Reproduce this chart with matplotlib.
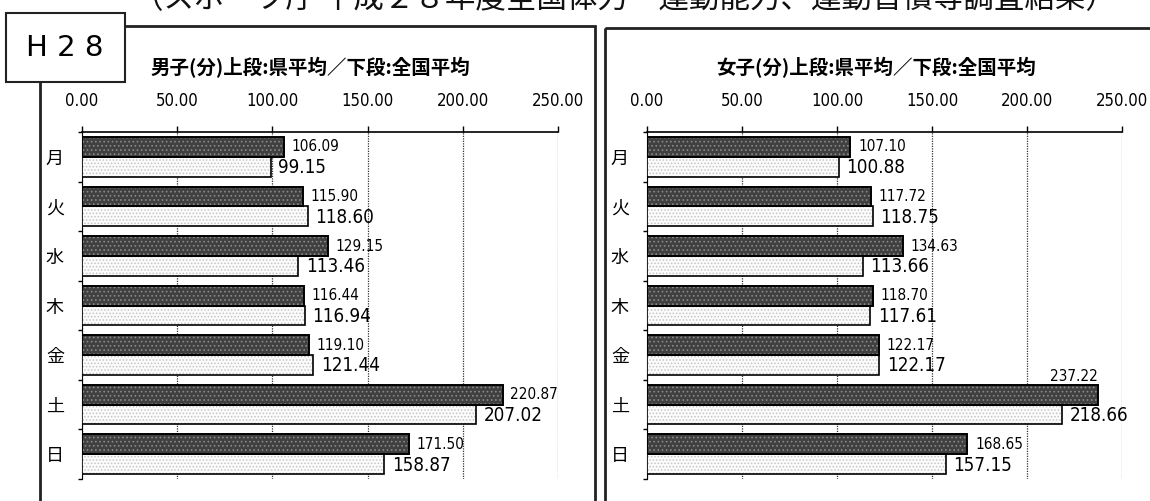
import matplotlib
matplotlib.use('Agg')
import matplotlib.pyplot as plt
from matplotlib.patches import Rectangle
import numpy as np

plt.rcParams['font.family'] = ['Noto Sans CJK JP', 'DejaVu Sans']
plt.rcParams['hatch.linewidth'] = 0.7

# data
days = ['月', '火', '水', '木', '金', '土', '日']
boys_pref = [106.09, 115.90, 129.15, 116.44, 119.10, 220.87, 171.50]
boys_nat = [99.15, 118.60, 113.46, 116.94, 121.44, 207.02, 158.87]
girls_pref = [107.10, 117.72, 134.63, 118.70, 122.17, 237.22, 168.65]
girls_nat = [100.88, 118.75, 113.66, 117.61, 122.17, 218.66, 157.15]
x_ticks = [0, 50, 100, 150, 200, 250]
titles = ['男子(分)上段:県平均／下段:全国平均', '女子(分)上段:県平均／下段:全国平均']
header = '（スポーツ庁 平成２８年度全国体力・運動能力、運動習慣等調査結果）'

W, H = 1150, 501
num_font = dict(family=['DejaVu Sans'], fontstretch='condensed')


def px(x0, y0, x1, y1):
    return [x0 / W, 1 - y1 / H, (x1 - x0) / W, (y1 - y0) / H]


fig = plt.figure(figsize=(W / 100, H / 100), dpi=100)

# overlay for frames and loose text
bg = fig.add_axes([0, 0, 1, 1], zorder=0)
bg.set_xlim(0, W)
bg.set_ylim(H, 0)
bg.axis('off')

bg.add_patch(Rectangle((40, 26), 555, 520, fill=False, lw=2, ec='#222'))
bg.add_patch(Rectangle((605, 28), 560, 520, fill=False, lw=2, ec='#222'))
bg.add_patch(Rectangle((6, 13), 119, 69, fc='white', lw=1.5, ec='#222', zorder=5))
bg.text(65, 48, 'H 2 8', fontsize=21, ha='center', va='center', family=['DejaVu Sans'],
        zorder=6)
# page heading above the charts, cut by the top edge as in the scan
bg.text(133, 8, header, fontsize=22, ha='left', va='baseline', color='#111')


def draw_panel(rect, pref, nat, title, title_x):
    ax = fig.add_axes(px(*rect), zorder=2)
    ax.patch.set_alpha(0)
    y = np.arange(len(days))
    # dark bars (prefecture), speckled
    ax.barh(y - 0.2, pref, height=0.4, color='#404040', lw=0, zorder=3)
    ax.barh(y - 0.2, pref, height=0.4, color='none', edgecolor='#8a8a8a', lw=0,
            hatch='....', zorder=3)
    ax.barh(y - 0.2, pref, height=0.4, color='none', edgecolor='black', lw=1.4, zorder=4)
    # light bars (national), speckled
    ax.barh(y + 0.2, nat, height=0.4, color='#fbfbfb', lw=0, zorder=3)
    ax.barh(y + 0.2, nat, height=0.4, color='none', edgecolor='#c4c4c4', lw=0,
            hatch='.....', zorder=3)
    ax.barh(y + 0.2, nat, height=0.4, color='none', edgecolor='black', lw=1.2, zorder=4)

    for v, yy in zip(pref, y):
        if v > 230:
            ax.text(v, yy - 0.42, f'{v:.2f}', ha='right', va='bottom', fontsize=11, **num_font)
        else:
            ax.text(v + 4, yy - 0.2, f'{v:.2f}', ha='left', va='center', fontsize=11, **num_font)
    for v, yy in zip(nat, y):
        ax.text(v + 4, yy + 0.22, f'{v:.2f}', ha='left', va='center', fontsize=13.5, **num_font)

    ax.set_xlim(0, 250)
    ax.set_ylim(len(days) - 0.5, -0.5)
    ax.xaxis.tick_top()
    ax.set_xticks(x_ticks)
    ax.set_xticklabels([f'{t:.2f}' for t in x_ticks], fontsize=12, **num_font)
    ax.tick_params(axis='x', length=4, pad=12, width=1)
    ax.set_yticks(y)
    ax.set_yticklabels(days, fontsize=13)
    ax.tick_params(axis='y', length=0, pad=13)
    ax.set_yticks(np.arange(len(days) + 1) - 0.5, minor=True)
    ax.tick_params(axis='y', which='minor', length=3, width=1)
    ax.grid(axis='x', linestyle=(0, (1, 1)), color='#333', lw=0.9, zorder=0)
    for s in ['right', 'bottom']:
        ax.spines[s].set_visible(False)
    ax.spines['top'].set_linewidth(1.2)
    ax.spines['left'].set_linewidth(0.8)
    bg.text(title_x, 68, title, fontsize=14, fontweight='bold', ha='center', va='center')
    return ax


draw_panel((82, 132, 558, 479), boys_pref, boys_nat, titles[0], 310)
draw_panel((647, 132, 1122, 479), girls_pref, girls_nat, titles[1], 876)

fig.savefig('out.png', dpi=100)
